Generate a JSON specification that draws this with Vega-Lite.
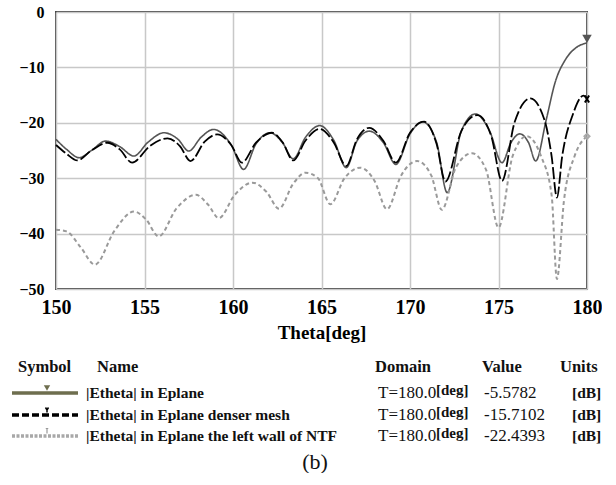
{
  "$schema": "https://vega.github.io/schema/vega-lite/v6.json",
  "width": 531,
  "height": 277,
  "padding": {"left": 5, "top": 4, "right": 0, "bottom": 0},
  "background": "white",
  "config": {"view": {"stroke": "#444444", "strokeWidth": 2}, "font": "Liberation Serif"},
  "datasets": {
    "curves": [
      {"theta":150.0,"value":-23.0,"series":"s1"},{"theta":150.6,"value":-24.8,"series":"s1"},{"theta":151.3,"value":-26.3,"series":"s1"},{"theta":152.0,"value":-25.0,"series":"s1"},{"theta":152.8,"value":-23.3,"series":"s1"},{"theta":153.6,"value":-24.3,"series":"s1"},{"theta":154.4,"value":-26.0,"series":"s1"},{"theta":155.2,"value":-23.5,"series":"s1"},{"theta":156.1,"value":-21.8,"series":"s1"},{"theta":156.9,"value":-23.0,"series":"s1"},{"theta":157.5,"value":-25.1,"series":"s1"},{"theta":158.2,"value":-22.6,"series":"s1"},{"theta":158.9,"value":-21.2,"series":"s1"},{"theta":159.9,"value":-24.0,"series":"s1"},{"theta":160.6,"value":-28.4,"series":"s1"},{"theta":161.3,"value":-23.8,"series":"s1"},{"theta":162.1,"value":-21.8,"series":"s1"},{"theta":162.8,"value":-23.6,"series":"s1"},{"theta":163.4,"value":-26.5,"series":"s1"},{"theta":164.1,"value":-22.6,"series":"s1"},{"theta":164.9,"value":-20.5,"series":"s1"},{"theta":165.7,"value":-23.2,"series":"s1"},{"theta":166.4,"value":-28.1,"series":"s1"},{"theta":167.0,"value":-23.3,"series":"s1"},{"theta":167.7,"value":-21.5,"series":"s1"},{"theta":168.5,"value":-23.6,"series":"s1"},{"theta":169.2,"value":-27.5,"series":"s1"},{"theta":170.0,"value":-22.0,"series":"s1"},{"theta":170.7,"value":-19.8,"series":"s1"},{"theta":171.5,"value":-23.5,"series":"s1"},{"theta":172.1,"value":-32.6,"series":"s1"},{"theta":172.9,"value":-21.5,"series":"s1"},{"theta":173.7,"value":-18.4,"series":"s1"},{"theta":174.5,"value":-21.5,"series":"s1"},{"theta":175.2,"value":-27.2,"series":"s1"},{"theta":175.7,"value":-23.6,"series":"s1"},{"theta":176.2,"value":-22.0,"series":"s1"},{"theta":176.7,"value":-23.6,"series":"s1"},{"theta":177.1,"value":-26.9,"series":"s1"},{"theta":177.7,"value":-19.4,"series":"s1"},{"theta":178.2,"value":-12.7,"series":"s1"},{"theta":178.8,"value":-8.5,"series":"s1"},{"theta":179.4,"value":-6.4,"series":"s1"},{"theta":180.0,"value":-5.58,"series":"s1"},
      {"theta":150.0,"value":-24.0,"series":"s2"},{"theta":150.6,"value":-25.6,"series":"s2"},{"theta":151.2,"value":-26.8,"series":"s2"},{"theta":152.0,"value":-25.0,"series":"s2"},{"theta":152.9,"value":-23.6,"series":"s2"},{"theta":153.6,"value":-24.8,"series":"s2"},{"theta":154.3,"value":-27.2,"series":"s2"},{"theta":155.3,"value":-24.2,"series":"s2"},{"theta":156.3,"value":-22.8,"series":"s2"},{"theta":157.0,"value":-24.2,"series":"s2"},{"theta":157.6,"value":-26.9,"series":"s2"},{"theta":158.4,"value":-23.4,"series":"s2"},{"theta":159.1,"value":-22.1,"series":"s2"},{"theta":159.9,"value":-24.0,"series":"s2"},{"theta":160.5,"value":-27.2,"series":"s2"},{"theta":161.3,"value":-23.6,"series":"s2"},{"theta":162.2,"value":-21.8,"series":"s2"},{"theta":162.8,"value":-23.5,"series":"s2"},{"theta":163.4,"value":-26.8,"series":"s2"},{"theta":164.1,"value":-23.2,"series":"s2"},{"theta":164.9,"value":-21.1,"series":"s2"},{"theta":165.7,"value":-23.6,"series":"s2"},{"theta":166.4,"value":-27.8,"series":"s2"},{"theta":167.0,"value":-23.0,"series":"s2"},{"theta":167.7,"value":-20.9,"series":"s2"},{"theta":168.5,"value":-23.3,"series":"s2"},{"theta":169.2,"value":-27.2,"series":"s2"},{"theta":170.0,"value":-21.8,"series":"s2"},{"theta":170.8,"value":-19.8,"series":"s2"},{"theta":171.5,"value":-23.8,"series":"s2"},{"theta":172.0,"value":-30.6,"series":"s2"},{"theta":172.9,"value":-21.5,"series":"s2"},{"theta":173.8,"value":-18.6,"series":"s2"},{"theta":174.6,"value":-22.5,"series":"s2"},{"theta":175.2,"value":-30.5,"series":"s2"},{"theta":175.9,"value":-20.0,"series":"s2"},{"theta":176.8,"value":-15.6,"series":"s2"},{"theta":177.6,"value":-19.5,"series":"s2"},{"theta":178.0,"value":-26.0,"series":"s2"},{"theta":178.3,"value":-33.5,"series":"s2"},{"theta":178.6,"value":-26.0,"series":"s2"},{"theta":179.2,"value":-18.5,"series":"s2"},{"theta":179.8,"value":-15.1,"series":"s2"},{"theta":180.0,"value":-15.71,"series":"s2"},
      {"theta":150.0,"value":-39.3,"series":"s3"},{"theta":150.6,"value":-39.6,"series":"s3"},{"theta":151.4,"value":-42.5,"series":"s3"},{"theta":152.2,"value":-45.6,"series":"s3"},{"theta":153.3,"value":-39.5,"series":"s3"},{"theta":154.4,"value":-36.0,"series":"s3"},{"theta":155.1,"value":-37.5,"series":"s3"},{"theta":155.8,"value":-40.5,"series":"s3"},{"theta":156.8,"value":-35.5,"series":"s3"},{"theta":157.9,"value":-33.0,"series":"s3"},{"theta":158.6,"value":-34.8,"series":"s3"},{"theta":159.2,"value":-37.2,"series":"s3"},{"theta":160.1,"value":-33.0,"series":"s3"},{"theta":161.1,"value":-30.8,"series":"s3"},{"theta":161.9,"value":-32.5,"series":"s3"},{"theta":162.6,"value":-35.5,"series":"s3"},{"theta":163.4,"value":-31.0,"series":"s3"},{"theta":164.1,"value":-29.0,"series":"s3"},{"theta":164.8,"value":-30.0,"series":"s3"},{"theta":165.5,"value":-34.7,"series":"s3"},{"theta":166.3,"value":-30.0,"series":"s3"},{"theta":167.2,"value":-28.1,"series":"s3"},{"theta":168.0,"value":-30.5,"series":"s3"},{"theta":168.7,"value":-35.6,"series":"s3"},{"theta":169.5,"value":-29.5,"series":"s3"},{"theta":170.4,"value":-26.9,"series":"s3"},{"theta":171.2,"value":-29.5,"series":"s3"},{"theta":171.8,"value":-35.7,"series":"s3"},{"theta":172.6,"value":-28.0,"series":"s3"},{"theta":173.5,"value":-25.5,"series":"s3"},{"theta":174.3,"value":-28.5,"series":"s3"},{"theta":175.0,"value":-38.9,"series":"s3"},{"theta":175.8,"value":-26.0,"series":"s3"},{"theta":176.6,"value":-22.4,"series":"s3"},{"theta":177.4,"value":-26.0,"series":"s3"},{"theta":178.0,"value":-33.0,"series":"s3"},{"theta":178.3,"value":-48.2,"series":"s3"},{"theta":178.7,"value":-34.0,"series":"s3"},{"theta":179.3,"value":-26.0,"series":"s3"},{"theta":180.0,"value":-22.44,"series":"s3"}
    ],
    "legend": [
      {"kind":"header","row":0,"col":1,"label":"Symbol"},
      {"kind":"header","row":0,"col":5,"label":"Name"},
      {"kind":"header","row":0,"col":7,"label":"Domain"},
      {"kind":"header","row":0,"col":10,"label":"Value"},
      {"kind":"header","row":0,"col":12,"label":"Units"},
      {"kind":"symline","row":1,"col":0,"series":"s1"},
      {"kind":"symline","row":1,"col":3,"series":"s1"},
      {"kind":"symline","row":2,"col":0,"series":"s2"},
      {"kind":"symline","row":2,"col":3,"series":"s2"},
      {"kind":"symline","row":3,"col":0,"series":"s3"},
      {"kind":"symline","row":3,"col":3,"series":"s3"},
      {"kind":"marker","row":1,"col":2,"series":"s1"},
      {"kind":"marker","row":2,"col":2,"series":"s2"},
      {"kind":"marker","row":3,"col":2,"series":"s3"},
      {"kind":"name","row":1,"col":4,"label":"|Etheta| in Eplane"},
      {"kind":"name","row":2,"col":4,"label":"|Etheta| in Eplane  denser mesh"},
      {"kind":"name","row":3,"col":4,"label":"|Etheta| in Eplane the left wall of NTF"},
      {"kind":"domain","row":1,"col":8,"label":"T=180.0"},
      {"kind":"domain","row":2,"col":8,"label":"T=180.0"},
      {"kind":"domain","row":3,"col":8,"label":"T=180.0"},
      {"kind":"deg","row":1,"col":9,"label":"[deg]"},
      {"kind":"deg","row":2,"col":9,"label":"[deg]"},
      {"kind":"deg","row":3,"col":9,"label":"[deg]"},
      {"kind":"value","row":1,"col":11,"label":"-5.5782"},
      {"kind":"value","row":2,"col":11,"label":"-15.7102"},
      {"kind":"value","row":3,"col":11,"label":"-22.4393"},
      {"kind":"unit","row":1,"col":13,"label":"[dB]"},
      {"kind":"unit","row":2,"col":13,"label":"[dB]"},
      {"kind":"unit","row":3,"col":13,"label":"[dB]"},
      {"kind":"caption","row":4,"col":6,"label":"(b)"}
    ]
  },
  "layer": [
    {
      "data": {"name": "curves"},
      "layer": [
        {
          "mark": {"type": "line", "interpolate": "monotone"},
          "encoding": {
            "x": {"field": "theta", "type": "quantitative",
              "scale": {"domain": [150, 180], "nice": false, "zero": false},
              "axis": {"values": [150,155,160,165,170,175,180], "grid": true, "gridColor": "#c8c8c8", "gridWidth": 1.5, "ticks": false, "domain": false, "labelFlush": false,
                "labelFont": "Liberation Serif", "labelFontSize": 20, "labelFontWeight": "bold", "labelColor": "#000", "labelPadding": 8,
                "title": "Theta[deg]", "titleFont": "Liberation Serif", "titleFontSize": 19, "titleFontWeight": "bold", "titleColor": "#000", "titlePadding": 6}},
            "y": {"field": "value", "type": "quantitative",
              "scale": {"domain": [-50, 0], "nice": false, "zero": false},
              "axis": {"values": [-50,-40,-30,-20,-10,0], "grid": true, "gridColor": "#c8c8c8", "gridWidth": 1.5, "ticks": false, "domain": false, "labelFlush": false,
                "labelFont": "Liberation Serif", "labelFontSize": 16, "labelFontWeight": "bold", "labelColor": "#000", "labelPadding": 12, "title": null}},
            "color": {"field": "series", "type": "nominal", "scale": {"domain": ["s1","s2","s3"], "range": ["#555555","#000000","#9a9a9a"]}, "legend": null},
            "strokeDash": {"field": "series", "type": "nominal", "scale": {"domain": ["s1","s2","s3"], "range": [[1,0],[12,3],[4,3]]}, "legend": null},
            "strokeWidth": {"field": "series", "type": "nominal", "scale": {"domain": ["s1","s2","s3"], "range": [1.6,2,1.5]}, "legend": null}
          }
        },
        {
          "transform": [{"filter": "datum.series == 's1' && datum.theta == 180"}],
          "mark": {"type": "point", "shape": "triangle-down", "filled": true, "color": "#555555", "size": 90, "yOffset": -4, "opacity": 1},
          "encoding": {"x": {"field": "theta", "type": "quantitative"}, "y": {"field": "value", "type": "quantitative"}}
        },
        {
          "transform": [{"filter": "datum.series == 's2' && datum.theta == 180"}],
          "mark": {"type": "point", "shape": "M-0.6,-1L0.6,1M0.6,-1L-0.6,1", "filled": false, "color": "#000000", "size": 50, "strokeWidth": 2, "opacity": 1},
          "encoding": {"x": {"field": "theta", "type": "quantitative"}, "y": {"field": "value", "type": "quantitative"}}
        },
        {
          "transform": [{"filter": "datum.series == 's3' && datum.theta == 180"}],
          "mark": {"type": "point", "shape": "diamond", "filled": false, "color": "#aaaaaa", "size": 25, "opacity": 1},
          "encoding": {"x": {"field": "theta", "type": "quantitative"}, "y": {"field": "value", "type": "quantitative"}}
        }
      ]
    },
    {
      "data": {"name": "legend"},
      "encoding": {
        "x": {"field": "col", "type": "quantitative", "axis": null,
          "scale": {"domain": [0,1,2,3,4,5,6,7,8,9,10,11,12,13], "range": [-44,-38,-9,22,30,41,259,319,322,380,426,428,504,516], "nice": false, "zero": false}},
        "y": {"field": "row", "type": "quantitative", "axis": null,
          "scale": {"domain": [0,1,2,3,4], "range": [355,381,403,424,450], "nice": false, "zero": false}}
      },
      "layer": [
        {
          "transform": [{"filter": "datum.kind == 'symline'"}],
          "mark": {"type": "line", "strokeWidth": 3.5},
          "encoding": {
            "detail": {"field": "series", "type": "nominal"},
            "color": {"field": "series", "type": "nominal", "scale": {"domain": ["s1","s2","s3"], "range": ["#6e6e4e","#000000","#a8a8a8"]}, "legend": null},
            "strokeDash": {"field": "series", "type": "nominal", "scale": {"domain": ["s1","s2","s3"], "range": [[1,0],[7,3],[3,1.5]]}, "legend": null}
          }
        },
        {
          "transform": [{"filter": "datum.kind == 'marker' && datum.series == 's1'"}],
          "mark": {"type": "point", "shape": "triangle-down", "filled": true, "color": "#6e6e4e", "size": 40, "yOffset": -5, "opacity": 1}
        },
        {
          "transform": [{"filter": "datum.kind == 'marker' && datum.series == 's2'"}],
          "mark": {"type": "point", "shape": "M-0.6,-1L0,0L0.6,-1M0,0L0,1", "filled": false, "color": "#000000", "size": 25, "strokeWidth": 1.5, "yOffset": -5, "opacity": 1}
        },
        {
          "transform": [{"filter": "datum.kind == 'marker' && datum.series == 's3'"}],
          "mark": {"type": "point", "shape": "M-0.5,-1L0.5,-1M0,-1L0,1", "filled": false, "color": "#999999", "size": 25, "strokeWidth": 1.2, "yOffset": -5, "opacity": 1}
        },
        {
          "transform": [{"filter": "datum.kind == 'header'"}],
          "mark": {"type": "text", "align": "left", "baseline": "middle", "font": "Liberation Serif", "fontSize": 16.5, "fontWeight": "bold", "color": "#111111"},
          "encoding": {"text": {"field": "label"}}
        },
        {
          "transform": [{"filter": "datum.kind == 'name' || datum.kind == 'unit'"}],
          "mark": {"type": "text", "align": "left", "baseline": "middle", "font": "Liberation Serif", "fontSize": 15.5, "fontWeight": "bold", "color": "#111111"},
          "encoding": {"text": {"field": "label"}}
        },
        {
          "transform": [{"filter": "datum.kind == 'domain'"}],
          "mark": {"type": "text", "align": "left", "baseline": "middle", "font": "Liberation Serif", "fontSize": 17, "color": "#111111"},
          "encoding": {"text": {"field": "label"}}
        },
        {
          "transform": [{"filter": "datum.kind == 'deg'"}],
          "mark": {"type": "text", "align": "left", "baseline": "middle", "font": "Liberation Serif", "fontSize": 15, "fontWeight": "bold", "dy": -3, "color": "#111111"},
          "encoding": {"text": {"field": "label"}}
        },
        {
          "transform": [{"filter": "datum.kind == 'value'"}],
          "mark": {"type": "text", "align": "left", "baseline": "middle", "font": "Liberation Serif", "fontSize": 17, "color": "#111111"},
          "encoding": {"text": {"field": "label"}}
        },
        {
          "transform": [{"filter": "datum.kind == 'caption'"}],
          "mark": {"type": "text", "align": "center", "baseline": "middle", "font": "Liberation Serif", "fontSize": 22, "color": "#111111"},
          "encoding": {"text": {"field": "label"}}
        }
      ]
    }
  ],
  "resolve": {"scale": {"x": "independent", "y": "independent", "color": "independent", "strokeDash": "independent", "strokeWidth": "independent"}}
}
